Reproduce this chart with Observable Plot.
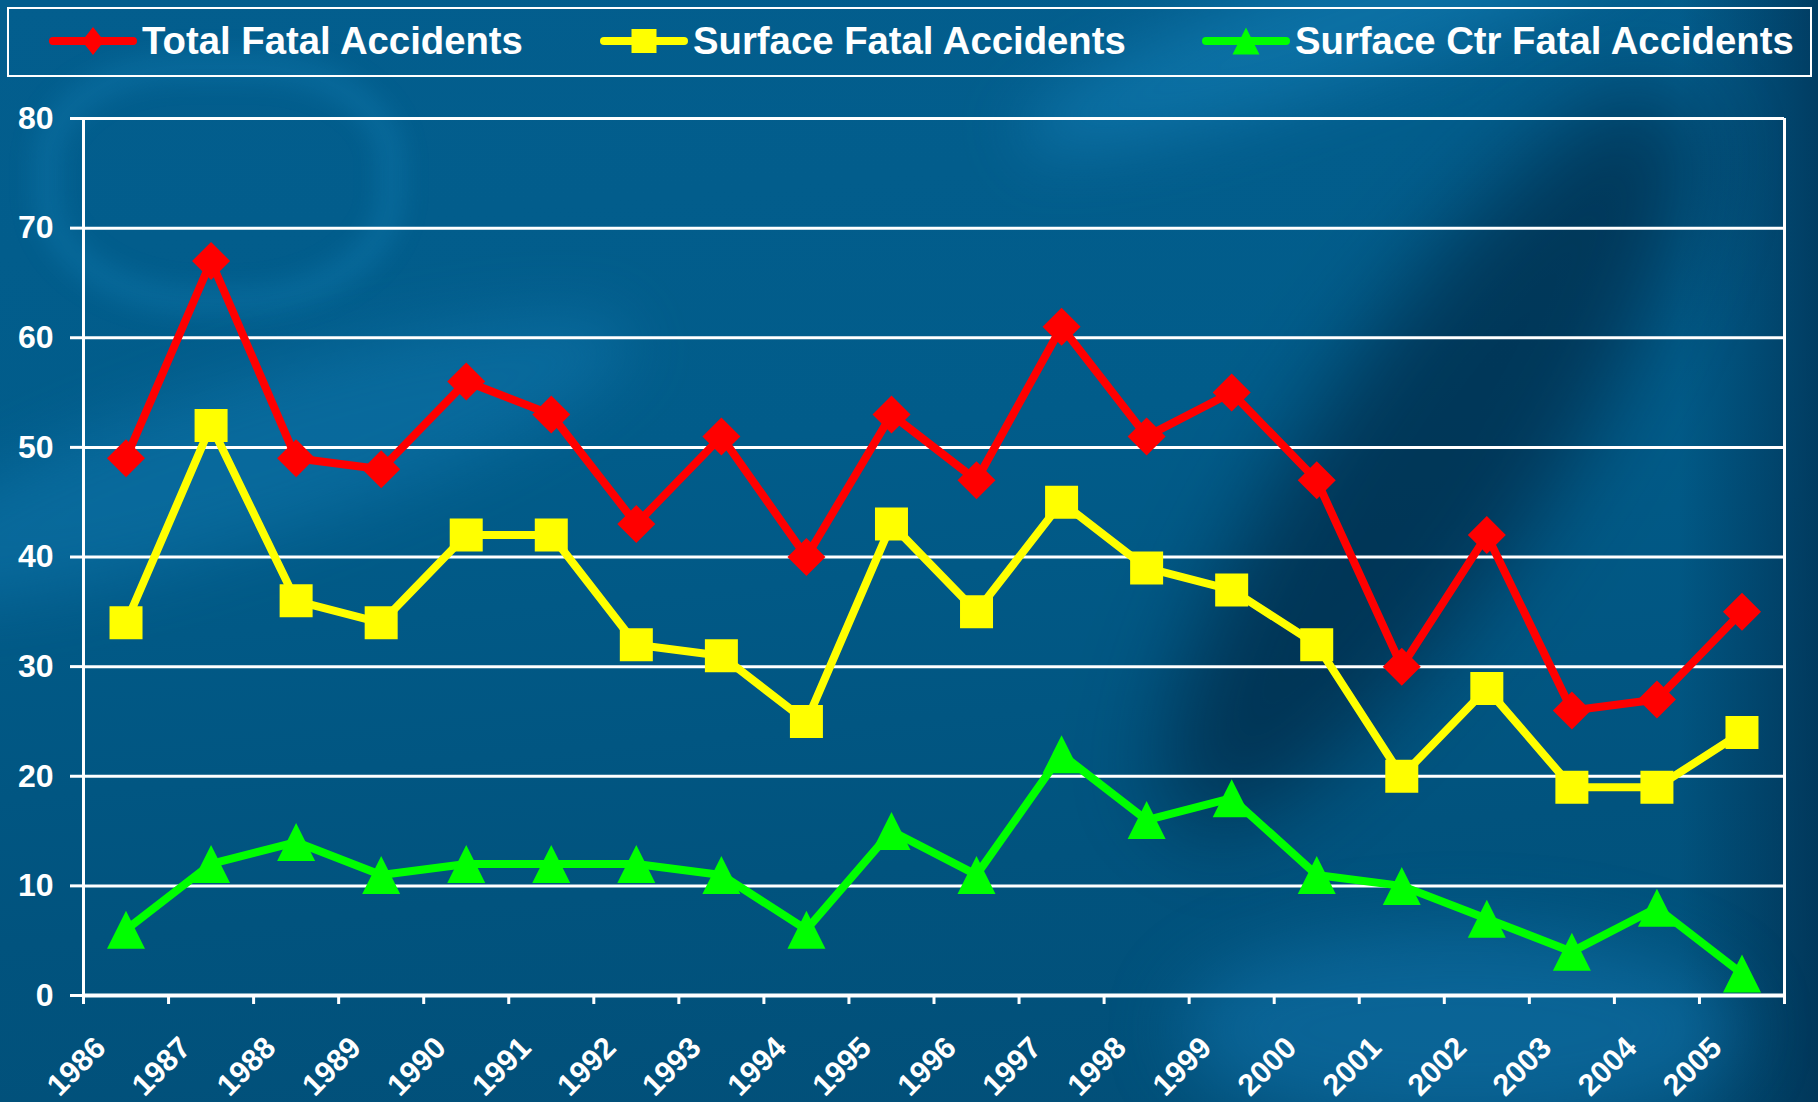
<!DOCTYPE html>
<html>
<head>
<meta charset="utf-8">
<script src="https://cdn.jsdelivr.net/npm/d3@7"></script>
<script src="https://cdn.jsdelivr.net/npm/@observablehq/plot@0.6"></script>
<style>
  html, body { margin: 0; padding: 0; }
  body {
    position: relative;
    width: 1818px; height: 1102px; overflow: hidden;
    font-family: "Liberation Sans", Arial, sans-serif;
    background:
      linear-gradient(to left, rgba(0,35,65,0.55), transparent 140px),
      linear-gradient(175deg, #035e8e 0%, #015c8a 40%, #01537e 75%, #024f78 100%);
  }
  .deco { position: absolute; border-radius: 50%; z-index: 0; pointer-events: none; }
  #legend, #chart { position: relative; z-index: 1; }
  #legend { height: 85px; }
  #legend .box { position: absolute; left: 7px; top: 7px; width: 1801px; height: 66px; border: 2px solid #fff; }
  #legend .item { position: absolute; top: 17px; height: 48px; display: flex; align-items: center; }
  #legend .item span { color: #fff; font-weight: bold; font-size: 38.3px; margin-left: 5px; white-space: nowrap; }
  svg { display: block; }
</style>
</head>
<body>
<!-- decorative background shapes -->
<div class="deco" style="left:40px; top:60px; width:330px; height:220px; border-radius:40% 40% 45% 45%; border:14px solid rgba(35,160,220,0.35); filter:blur(14px);"></div>
<div class="deco" style="left:-150px; top:380px; width:800px; height:160px; background:rgba(25,140,200,0.28); transform:rotate(-18deg); filter:blur(30px);"></div>
<div class="deco" style="left:1000px; top:-40px; width:700px; height:120px; background:rgba(30,145,205,0.35); transform:rotate(-20deg); filter:blur(30px);"></div>
<div class="deco" style="left:1310px; top:20px; width:240px; height:880px; background:rgba(0,25,50,0.55); transform:rotate(34deg); filter:blur(45px);"></div>
<div class="deco" style="left:1180px; top:930px; width:560px; height:200px; background:rgba(20,125,185,0.45); filter:blur(35px);"></div>
<div id="legend"><div class="box"></div></div>
<div id="chart"></div>
<script>
// ---- data ----
const years = [1986,1987,1988,1989,1990,1991,1992,1993,1994,1995,1996,1997,1998,1999,2000,2001,2002,2003,2004,2005];
const totalFatal      = [49,67,49,48,56,53,43,51,40,53,47,61,51,55,47,30,42,26,27,35];
const surfaceFatal    = [34,52,36,34,42,42,32,31,25,43,35,45,39,37,32,20,28,19,19,24];
const surfaceCtrFatal = [ 6,12,14,11,12,12,12,11, 6,15,11,22,16,18,11,10, 7, 4, 8, 2];
const seriesNames = ["Total Fatal Accidents", "Surface Fatal Accidents", "Surface Ctr Fatal Accidents"];
const seriesColors = ["#ff0000", "#ffff00", "#00ff00"];
const yTicks = [0,10,20,30,40,50,60,70,80];
const xTickYears = [1986,1987,1988,1989,1990,1991,1992,1993,1994,1995,1996,1997,1998,1999,2000,2001,2002,2003,2004,2005,2006];

const seriesValues = [totalFatal, surfaceFatal, surfaceCtrFatal];
const rows = [];
seriesNames.forEach((name, s) => years.forEach((yr, i) => rows.push({series: name, year: yr, value: seriesValues[s][i]})));

// markers centered on their bounding box (like the spreadsheet markers)
const triangleBox = {
  draw(ctx, size) {
    const h = Math.sqrt(size);
    const w = h;
    ctx.moveTo(0, -h / 2);
    ctx.lineTo(w / 2, h / 2);
    ctx.lineTo(-w / 2, h / 2);
    ctx.closePath();
  }
};
const diamondBox = {
  draw(ctx, size) {
    const r = Math.sqrt(size) / 2;
    ctx.moveTo(0, -r); ctx.lineTo(r, 0); ctx.lineTo(0, r); ctx.lineTo(-r, 0); ctx.closePath();
  }
};
const squareBox = {
  draw(ctx, size) {
    const r = Math.sqrt(size) / 2;
    ctx.rect(-r, -r, 2 * r, 2 * r);
  }
};
const symbols = [diamondBox, squareBox, triangleBox];
const markerPx = [38, 33, 38];
const rFor = px => Math.sqrt(px * px / Math.PI);

const marks = [
  Plot.gridY(yTicks, {stroke: "#fff", strokeOpacity: 1, strokeWidth: 3}),
  Plot.ruleX([1986], {stroke: "#fff", strokeWidth: 3}),
  Plot.ruleX([2006], {stroke: "#fff", strokeWidth: 3}),
  Plot.ruleY([0], {stroke: "#fff", strokeWidth: 4}),
  Plot.axisY({ticks: yTicks, tickSize: 13, tickPadding: 17, stroke: "#fff", strokeWidth: 3, fill: "#fff",
              fontSize: 32, fontWeight: "bold", label: null}),
  Plot.axisX({ticks: xTickYears, tickSize: 9, stroke: "#fff", strokeWidth: 3, tickFormat: () => "", label: null}),
  Plot.text(years, {x: d => d, frameAnchor: "bottom", dy: 78, rotate: -45, text: d => String(d),
                    fill: "#fff", fontSize: 30.5, fontWeight: "bold", textAnchor: "middle"})
];
seriesNames.forEach((name, s) => {
  const data = rows.filter(r => r.series === name);
  marks.push(Plot.line(data, {x: d => d.year + 0.5, y: "value", stroke: seriesColors[s], strokeWidth: 8,
                              strokeLinejoin: "round", strokeLinecap: "round"}));
});
seriesNames.forEach((name, s) => {
  const data = rows.filter(r => r.series === name);
  marks.push(Plot.dot(data, {x: d => d.year + 0.5, y: "value", fill: seriesColors[s], stroke: "none",
                             symbol: symbols[s], r: rFor(markerPx[s])}));
});

const chart = Plot.plot({
  width: 1818, height: 1017,
  marginLeft: 83, marginRight: 34, marginTop: 33, marginBottom: 107,
  x: {type: "linear", domain: [1986, 2006]},
  y: {domain: [0, 80]},
  style: {background: "transparent", color: "#fff", fontFamily: "'Liberation Sans', Arial, sans-serif", overflow: "visible"},
  marks
});
document.getElementById("chart").appendChild(chart);

// ---- legend ----
const legendX = [49, 600, 1202];
const legendMarkerPx = [[22, 28], [25, 24], [27, 27]];
const legend = document.getElementById("legend");
seriesNames.forEach((name, s) => {
  const item = document.createElement("div");
  item.className = "item";
  item.style.left = legendX[s] + "px";
  const svg = d3.create("svg").attr("width", 88).attr("height", 48);
  svg.append("line").attr("x1", 4).attr("x2", 84).attr("y1", 24).attr("y2", 24)
     .attr("stroke", seriesColors[s]).attr("stroke-width", 8).attr("stroke-linecap", "round");
  const [w, h] = legendMarkerPx[s];
  let p;
  if (s === 0) p = `M44,${24 - h/2}L${44 + w/2},24L44,${24 + h/2}L${44 - w/2},24Z`;
  else if (s === 1) p = `M${44 - w/2},${24 - h/2}h${w}v${h}h${-w}Z`;
  else p = `M44,${24 - h/2}L${44 + w/2},${24 + h/2}L${44 - w/2},${24 + h/2}Z`;
  svg.append("path").attr("d", p).attr("fill", seriesColors[s]);
  item.appendChild(svg.node());
  const span = document.createElement("span");
  span.textContent = name;
  item.appendChild(span);
  legend.appendChild(item);
});
</script>
</body>
</html>
